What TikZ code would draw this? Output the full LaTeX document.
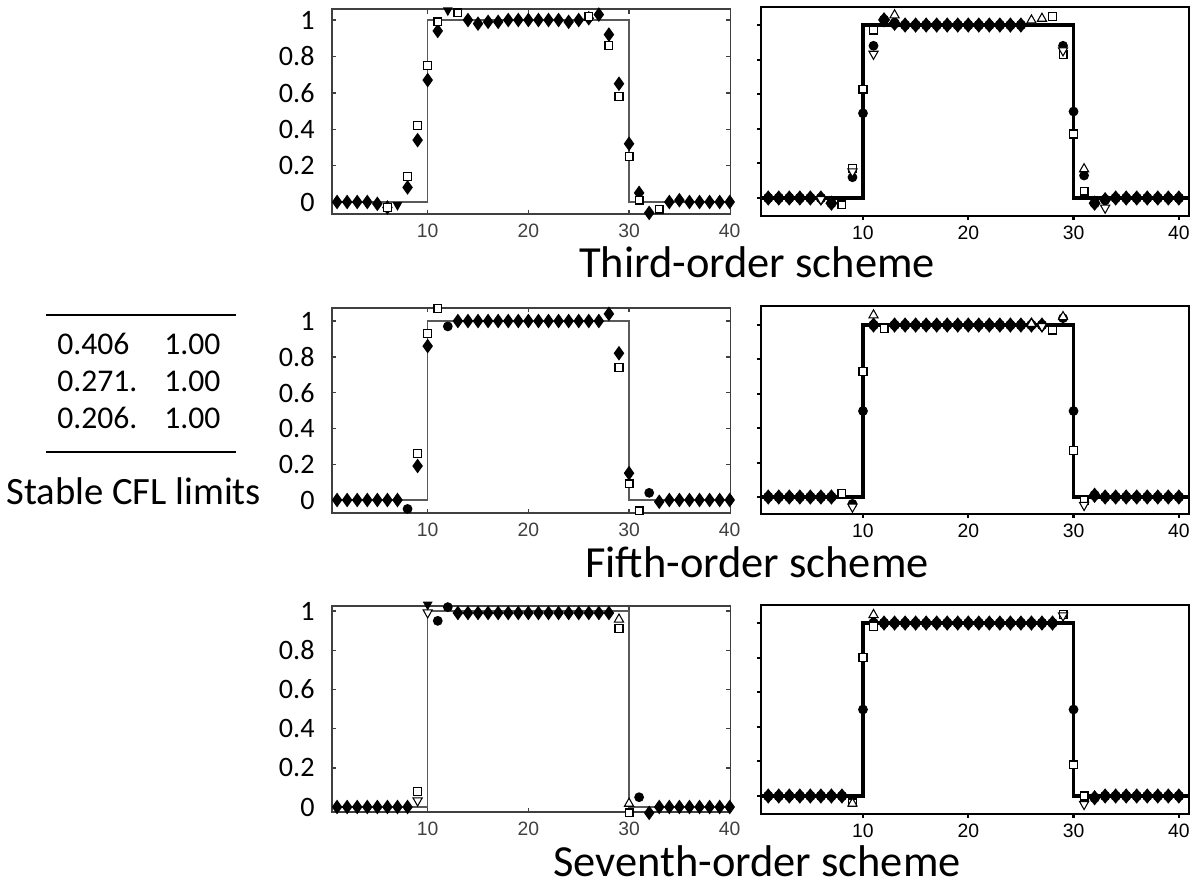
\documentclass[tikz,border=0pt]{standalone}
\usepackage{fontspec}
\setmainfont{Carlito}
\newfontfamily\tickfont{Liberation Sans}
\usetikzlibrary{positioning}

\tikzset{
  % one scope per plot: origin at data (0,0), units of the data
  thirdL/.style={shift={(327,202)}, x=0.2014cm, y=3.64cm},
  fifthL/.style={shift={(327,500)}, x=0.2014cm, y=3.58cm},
  seventhL/.style={shift={(327,807)}, x=0.2014cm, y=3.92cm},
  thirdR/.style={shift={(757.7,198)}, x=0.2106cm, y=3.46cm},
  fifthR/.style={shift={(757.7,497)}, x=0.2106cm, y=3.44cm},
  seventhR/.style={shift={(757.7,796)}, x=0.2106cm, y=3.46cm},
  % plot markers
  dmd/.pic={\fill (0pt,-4.2pt) -- (3pt,0pt) -- (0pt,4.2pt) -- (-3pt,0pt) -- cycle;},
  dot/.pic={\fill (0pt,0pt) circle (2.8pt);},
  blob/.pic={\fill (0pt,-4.4pt) -- (3.4pt,0pt) -- (0pt,4.4pt) -- (-3.4pt,0pt) -- cycle;
             \fill (0pt,0pt) circle (3pt);},
  sq/.pic={\draw[fill=white, line width=0.75pt] (-2.2pt,-2.2pt) rectangle (2.2pt,2.2pt);},
  tri/.pic={\draw[fill=white, line width=0.6pt] (0pt,2.8pt) -- (2.6pt,-1.8pt) -- (-2.6pt,-1.8pt) -- cycle;},
  trid/.pic={\draw[fill=white, line width=0.6pt] (0pt,-2.8pt) -- (2.6pt,1.8pt) -- (-2.6pt,1.8pt) -- cycle;},
  darktrid/.pic={\fill (0pt,-3pt) -- (2.8pt,2pt) -- (-2.8pt,2pt) -- cycle;},
}

\begin{document}
\begin{tikzpicture}[x=0.02cm, y=-0.02cm,
    every node/.style={inner sep=0pt},
    ylab/.style={anchor=east, font=\fontsize{16}{16}\selectfont},
    xlab/.style={font=\tickfont\fontsize{11}{11}\selectfont},
    title/.style={anchor=base, font=\fontsize{25.3}{28}\selectfont},
    cfl/.style={anchor=west, font=\fontsize{18}{18}\selectfont},
    thinframe/.style={draw=black!75, line width=0.8pt},
    thickframe/.style={draw=black, line width=1.2pt},
    thinstep/.style={draw=black!65, line width=0.8pt},
    thickstep/.style={draw=black, line width=1.8pt}]
\useasboundingbox (0,0) rectangle (1200,888);

% stable CFL limits, left of the middle row
\draw[line width=0.8pt] (46,315) -- (236,315);
\node[cfl] (cfl1a) at (57,344) {0.406};
\node[cfl] (cfl1b) at (164,344) {1.00};
\node[cfl] (cfl2a) at (57,381) {0.271.};
\node[cfl] (cfl2b) at (164,381) {1.00};
\node[cfl] (cfl3a) at (57,418) {0.206.};
\node[cfl] (cfl3b) at (164,418) {1.00};
\draw[line width=0.8pt] (46,452) -- (236,452);
\node[cfl, font=\fontsize{22}{22}\selectfont] (cflname) at (6,491) {Stable CFL limits};

% left column: thin grey frames, ticks inside
\foreach \p/\yb/\yt in {thirdL/-0.066/1.06, fifthL/-0.073/1.073, seventhL/-0.026/1.026} {
  \begin{scope}[\p]
    \draw[thinframe] (0.5,\yb) rectangle (40.1,\yt);
    \foreach \t [count=\k] in {0,0.2,0.4,0.6,0.8,1} {
      \draw[thinframe] (0.5,\t) -- ++(2.5pt,0pt);
      \draw[thinframe] (40.1,\t) -- ++(-2.5pt,0pt);
      \node[ylab] (\p-y\k) at (-1.2,\t) {\t};
    }
    \foreach \t in {10,20,30} {
      \draw[thinframe] (\t,\yb) -- ++(0pt,2.5pt);
      \draw[thinframe] (\t,\yt) -- ++(0pt,-2.5pt);
    }
    \foreach \t in {10,20,30,40}
      \node[xlab, text=black!75, below=5.5pt] (\p-x\t) at (\t,\yb) {\t};
    \draw[thinstep] (0.5,0) -- (10,0) -- (10,1) -- (30,1) -- (30,0) -- (40.1,0);
  \end{scope}
}

% right column: black frames, ticks outside
\foreach \p/\yb/\yt in {thirdR/-0.104/1.104, fifthR/-0.099/1.11, seventhR/-0.104/1.104} {
  \begin{scope}[\p]
    \draw[thickframe] (0.31,\yb) rectangle (41,\yt);
    \foreach \t in {0,0.2,0.4,0.6,0.8,1}
      \draw[thickframe] (0.31,\t) -- ++(-2.5pt,0pt);
    \foreach \t in {10,20,30,40} {
      \draw[thickframe] (\t,\yb) -- ++(0pt,-2.5pt);
      \node[xlab, below=5.5pt] (\p-x\t) at (\t,\yb) {\t};
    }
    \draw[thickstep] (0.31,0) -- (10,0) -- (10,1) -- (30,1) -- (30,0) -- (41,0);
  \end{scope}
}

% third order
\begin{scope}[thirdL]
  \foreach \i/\v in {1/0,2/0,3/0,4/0,5/-0.01,6/-0.03,8/0.08,9/0.34,10/0.67,11/0.94,14/1,15/0.98,
      16/0.99,17/0.99,18/1,19/1,20/1,21/1,22/1,23/1,24/0.99,25/1,26/1.01,27/1.03,28/0.92,
      29/0.65,30/0.32,31/0.05,32/-0.06,34/0,35/0.01,36/0,37/0,38/0,39/0,40/0}
    \pic at (\i,\v) {dmd};
  \foreach \i/\v in {6/-0.03,8/0.14,9/0.42,10/0.75,11/0.99,13/1.04,26/1.02,28/0.86,29/0.58,
      30/0.25,31/0.01,33/-0.04}
    \pic at (\i,\v) {sq};
  \foreach \i/\v in {7/-0.02,12/1.05}
    \pic at (\i,\v) {darktrid};
\end{scope}
\begin{scope}[thirdR]
  \foreach \i/\v in {1/0,2/0,3/0,4/0,5/0,6/0,7/-0.03,12/1.03,13/1.01,32/-0.03,33/-0.01}
    \pic at (\i,\v) {blob};
  \foreach \i in {14,...,25} \pic at (\i,1) {blob};
  \foreach \i in {34,...,40} \pic at (\i,0) {blob};
  \foreach \i/\v in {9/0.12,10/0.49,11/0.88,29/0.88,30/0.5,31/0.13}
    \pic at (\i,\v) {dot};
  \foreach \i/\v in {8/-0.04,9/0.17,10/0.63,11/0.97,28/1.05,29/0.83,30/0.37,31/0.04}
    \pic at (\i,\v) {sq};
  \foreach \i/\v in {13/1.06,26/1.03,27/1.04,31/0.17}
    \pic at (\i,\v) {tri};
  \foreach \i/\v in {6/-0.01,9/0.15,11/0.83,29/0.85,33/-0.06}
    \pic at (\i,\v) {trid};
\end{scope}
\node[title] (third) at (757,278) {Third-order scheme};

% fifth order
\begin{scope}[fifthL]
  \foreach \i/\v in {9/0.19,10/0.86,28/1.04,29/0.82,30/0.15,33/-0.01}
    \pic at (\i,\v) {dmd};
  \foreach \i in {1,...,7,34,35,36,37,38,39,40} \pic at (\i,0) {dmd};
  \foreach \i in {13,...,27} \pic at (\i,1) {dmd};
  \foreach \i/\v in {8/-0.05,12/0.97,32/0.04}
    \pic at (\i,\v) {dot};
  \foreach \i/\v in {9/0.26,10/0.93,11/1.07,29/0.74,30/0.09,31/-0.06}
    \pic at (\i,\v) {sq};
\end{scope}
\begin{scope}[fifthR]
  \foreach \i/\v in {11/1,32/0.01}
    \pic at (\i,\v) {blob};
  \foreach \i in {1,...,7,33,34,35,36,37,38,39,40} \pic at (\i,0) {blob};
  \foreach \i in {13,...,27} \pic at (\i,1) {blob};
  \foreach \i/\v in {9/-0.04,10/0.5,29/1.04,30/0.5}
    \pic at (\i,\v) {dot};
  \foreach \i/\v in {8/0.02,10/0.73,12/0.98,28/0.97,30/0.27,31/-0.02}
    \pic at (\i,\v) {sq};
  \foreach \i/\v in {11/1.06,26/1.01,29/1.05}
    \pic at (\i,\v) {tri};
  \foreach \i/\v in {9/-0.06,27/0.99,31/-0.05}
    \pic at (\i,\v) {trid};
\end{scope}
\node[title] (fifth) at (757,577) {Fifth-order scheme};

% seventh order
\begin{scope}[seventhL]
  \foreach \i/\v in {32/-0.03}
    \pic at (\i,\v) {dmd};
  \foreach \i in {1,...,8,33,34,35,36,37,38,39,40} \pic at (\i,0) {dmd};
  \foreach \i in {13,...,28} \pic at (\i,0.99) {dmd};
  \foreach \i/\v in {11/0.95,12/1.02,31/0.05}
    \pic at (\i,\v) {dot};
  \foreach \i/\v in {9/0.08,29/0.91,30/-0.03}
    \pic at (\i,\v) {sq};
  \foreach \i/\v in {29/0.96,30/0.02}
    \pic at (\i,\v) {tri};
  \foreach \i/\v in {9/0.03,10/0.99}
    \pic at (\i,\v) {trid};
  \pic at (10,1.03) {darktrid};
\end{scope}
\begin{scope}[seventhR]
  \foreach \i/\v in {32/-0.01}
    \pic at (\i,\v) {blob};
  \foreach \i in {1,...,8,33,34,35,36,37,38,39,40} \pic at (\i,0) {blob};
  \foreach \i in {11,...,28} \pic at (\i,1) {blob};
  \foreach \i/\v in {10/0.5,30/0.5}
    \pic at (\i,\v) {dot};
  \foreach \i/\v in {9/-0.04,10/0.8,11/0.98,29/1.05,30/0.18,31/0}
    \pic at (\i,\v) {sq};
  \foreach \i/\v in {9/-0.04,11/1.05}
    \pic at (\i,\v) {tri};
  \foreach \i/\v in {29/1.04,31/-0.05}
    \pic at (\i,\v) {trid};
\end{scope}
\node[title] (seventh) at (757,876) {Seventh-order scheme};
\end{tikzpicture}
\end{document}
